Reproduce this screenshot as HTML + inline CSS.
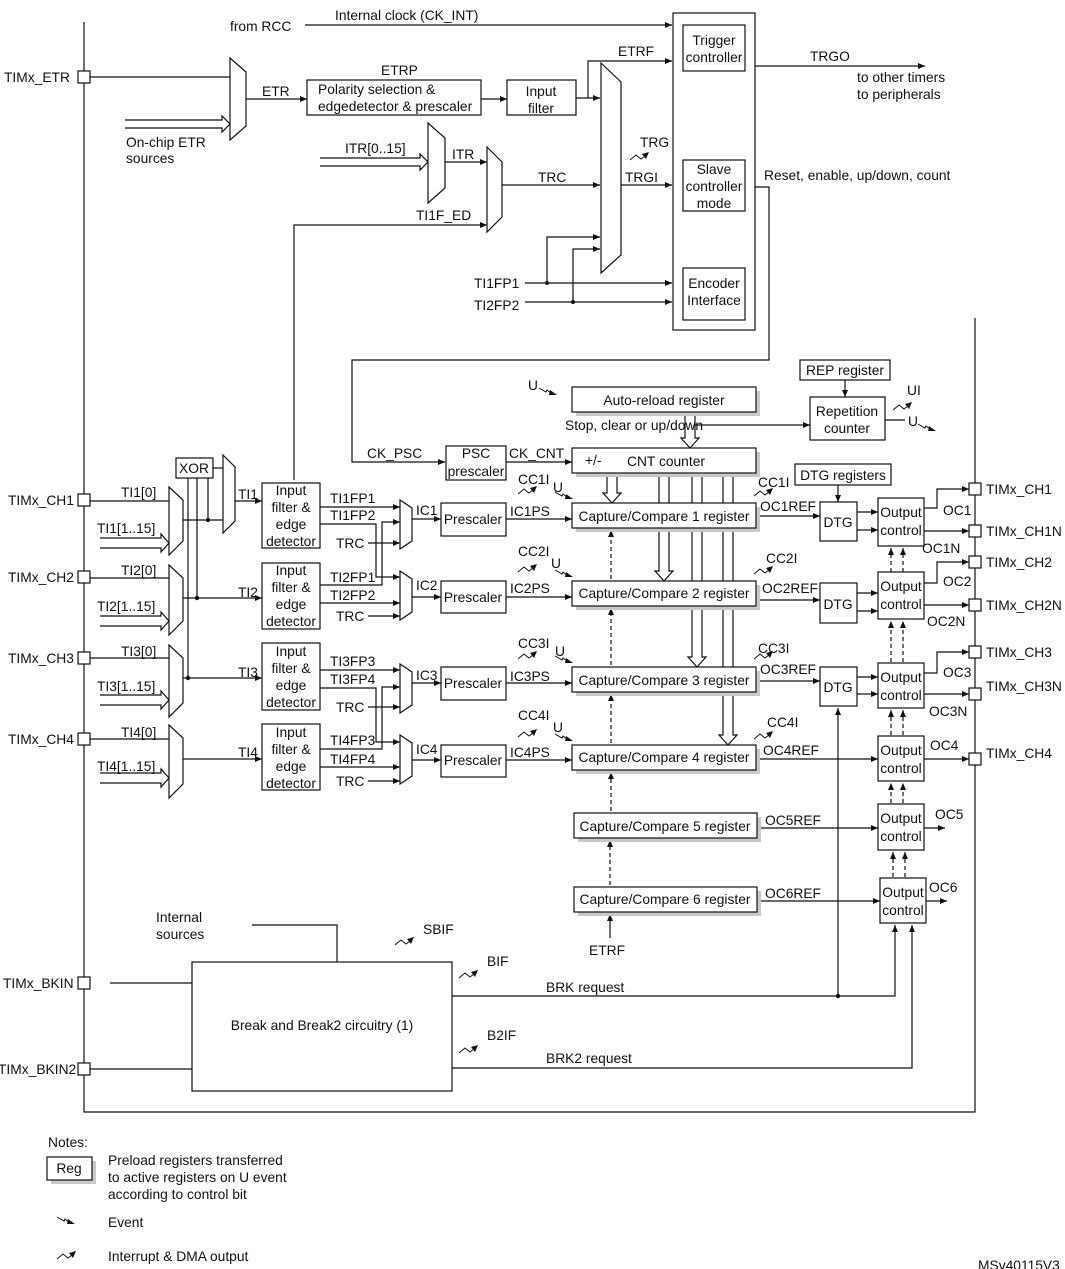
<!DOCTYPE html>
<html><head><meta charset="utf-8"><style>
html,body{margin:0;padding:0;background:#fff;}
svg{display:block;}
text{font-family:"Liberation Sans",Arial,sans-serif;font-size:13.8px;fill:#111;}
.c{text-anchor:middle;}
</style></head><body>
<svg width="1065" height="1269" viewBox="0 0 1065 1269" xmlns="http://www.w3.org/2000/svg">
<defs>
<marker id="a" markerWidth="8" markerHeight="8" refX="7" refY="4" orient="auto" markerUnits="userSpaceOnUse"><path d="M0 1 L7 4 L0 7Z" fill="#111"/></marker>
<g id="ev"><path d="M0 0 L7 4 L8 2 L12 5" fill="none" stroke="#111" stroke-width="1"/><path d="M11 2 L18 7 L10 7Z" fill="#111"/></g>
<g id="it"><path d="M0 8 L6 3 L11 7 L15 4" fill="none" stroke="#111" stroke-width="1"/><path d="M12 2 L19 0 L16 7Z" fill="#111"/></g>
</defs>
<g stroke="#111" stroke-width="1.2" fill="none">
<path d="M84 22 V1112 H975 V318"/>
<path d="M305 25 H672" marker-end="url(#a)"/>
<path d="M90 77 H230"/>
<path d="M125 120 H222 V116 L230 124 L222 132 V128 H125" fill="#fff"/>
<path d="M246 99 H307" marker-end="url(#a)"/>
<path d="M481 99 H507" marker-end="url(#a)"/>
<path d="M576 98 H600" marker-end="url(#a)"/>
<path d="M588 98 V61 H672" marker-end="url(#a)"/>
<path d="M320 158 H420 V154 L428 162 L420 170 V166 H320" fill="#fff"/>
<path d="M445 162 H487" marker-end="url(#a)"/>
<path d="M502 185 H600" marker-end="url(#a)"/>
<path d="M294 480 V225 H487" marker-end="url(#a)"/>
<path d="M621 185 H672" marker-end="url(#a)"/>
<path d="M525 283 H672" marker-end="url(#a)"/>
<path d="M525 302 H672" marker-end="url(#a)"/>
<path d="M547 283 V237 H600" marker-end="url(#a)"/>
<path d="M573 302 V249 H600" marker-end="url(#a)"/>
<path d="M755 66 H925" marker-end="url(#a)"/>
<path d="M755 187 H769 V360 H352 V462 H445" marker-end="url(#a)"/>
<path d="M506 462 H572" marker-end="url(#a)"/>
<path d="M685 412 V438 H681 L690 448 L699 438 H695 V412" fill="#fff"/>
<path d="M695 425 H810" marker-end="url(#a)"/>
<path d="M845 380 V397" marker-end="url(#a)"/>
<path d="M885 420 H905"/>
<path d="M838 485 V502" marker-end="url(#a)"/>
<path d="M607 473 V493 H603 L612 503 L621 493 H617 V473" fill="#fff"/>
<path d="M659 473 V571 H655 L664 581 L673 571 H669 V473" fill="#fff"/>
<path d="M692 473 V657 H688 L697 667 L706 657 H702 V473" fill="#fff"/>
<path d="M723 473 V735 H719 L728 745 L737 735 H733 V473" fill="#fff"/>
<path d="M611 579 V530" stroke-dasharray="4,3" marker-end="url(#a)"/>
<path d="M611 665 V608" stroke-dasharray="4,3" marker-end="url(#a)"/>
<path d="M611 743 V694" stroke-dasharray="4,3" marker-end="url(#a)"/>
<path d="M611 811 V772" stroke-dasharray="4,3" marker-end="url(#a)"/>
<path d="M610 885 V840" stroke-dasharray="4,3" marker-end="url(#a)"/>
<path d="M610 938 V914" marker-end="url(#a)"/>
<path d="M90 501 H169"/><path d="M100 538 H161 V534 L169 543 L161 552 V548 H100" fill="#fff"/>
<path d="M90 578 H169"/><path d="M100 616 H161 V612 L169 621 L161 630 V626 H100" fill="#fff"/>
<path d="M90 658 H169"/><path d="M100 695 H161 V691 L169 700 L161 709 V705 H100" fill="#fff"/>
<path d="M90 739 H169"/><path d="M100 773 H161 V769 L169 778 L161 787 V783 H100" fill="#fff"/>
<path d="M213 468 H223"/>
<path d="M208 478 V520"/><path d="M197 478 V598"/><path d="M188 478 V678"/>
<path d="M183 520 H223"/>
<path d="M235 501 H262" marker-end="url(#a)"/>
<path d="M183 598 H262" marker-end="url(#a)"/>
<path d="M183 678 H262" marker-end="url(#a)"/>
<path d="M183 759 H262" marker-end="url(#a)"/>
<path d="M320 507 H400" marker-end="url(#a)"/>
<path d="M320 524 H376 V577 H400" marker-end="url(#a)"/>
<path d="M320 585 H382 V522 H400" marker-end="url(#a)"/>
<path d="M368 543 H400" marker-end="url(#a)"/>
<path d="M320 603 H400" marker-end="url(#a)"/>
<path d="M368 616 H400" marker-end="url(#a)"/>
<path d="M320 670 H400" marker-end="url(#a)"/>
<path d="M320 688 H376 V742 H400" marker-end="url(#a)"/>
<path d="M320 749 H382 V687 H400" marker-end="url(#a)"/>
<path d="M368 707 H400" marker-end="url(#a)"/>
<path d="M320 767 H400" marker-end="url(#a)"/>
<path d="M368 781 H400" marker-end="url(#a)"/>
<path d="M412 519 H441" marker-end="url(#a)"/>
<path d="M412 597 H441" marker-end="url(#a)"/>
<path d="M412 683 H441" marker-end="url(#a)"/>
<path d="M412 760 H441" marker-end="url(#a)"/>
<path d="M506 519 H572" marker-end="url(#a)"/>
<path d="M506 597 H572" marker-end="url(#a)"/>
<path d="M506 683 H572" marker-end="url(#a)"/>
<path d="M506 760 H572" marker-end="url(#a)"/>
<path d="M756 516 H820" marker-end="url(#a)"/>
<path d="M756 600 H820" marker-end="url(#a)"/>
<path d="M756 681 H820" marker-end="url(#a)"/>
<path d="M756 759 H878" marker-end="url(#a)"/>
<path d="M757 828 H878" marker-end="url(#a)"/>
<path d="M757 901 H880" marker-end="url(#a)"/>
<path d="M857 512 H878" marker-end="url(#a)"/><path d="M857 530 H878" marker-end="url(#a)"/>
<path d="M857 593 H878" marker-end="url(#a)"/><path d="M857 611 H878" marker-end="url(#a)"/>
<path d="M857 677 H878" marker-end="url(#a)"/><path d="M857 694 H878" marker-end="url(#a)"/>
<path d="M924 508 H937 V489 H969" marker-end="url(#a)"/>
<path d="M924 531 H969" marker-end="url(#a)"/>
<path d="M924 583 H937 V562 H969" marker-end="url(#a)"/>
<path d="M924 605 H969" marker-end="url(#a)"/>
<path d="M924 673 H937 V652 H969" marker-end="url(#a)"/>
<path d="M924 694 H969" marker-end="url(#a)"/>
<path d="M924 759 H969" marker-end="url(#a)"/>
<path d="M924 828 H945" marker-end="url(#a)"/>
<path d="M926 901 H947" marker-end="url(#a)"/>
<g stroke-dasharray="4,3">
<path d="M891 572 V548" marker-end="url(#a)"/><path d="M903 572 V548" marker-end="url(#a)"/>
<path d="M891 662 V621" marker-end="url(#a)"/><path d="M903 662 V621" marker-end="url(#a)"/>
<path d="M891 735 V710" marker-end="url(#a)"/><path d="M903 735 V710" marker-end="url(#a)"/>
<path d="M891 803 V783" marker-end="url(#a)"/><path d="M903 803 V783" marker-end="url(#a)"/>
<path d="M893 877 V852" marker-end="url(#a)"/><path d="M905 877 V852" marker-end="url(#a)"/>
</g>
<path d="M252 925 H337 V962"/>
<path d="M110 983 H192"/>
<path d="M90 1069 H192"/>
<path d="M452 996 H895 V925" marker-end="url(#a)"/>
<path d="M838 996 V708" marker-end="url(#a)"/>
<path d="M452 1068 H912 V925" marker-end="url(#a)"/>
</g>
<g fill="#111">
<circle cx="547" cy="283" r="2"/><circle cx="573" cy="302" r="2"/>
<circle cx="208" cy="520" r="2.2"/><circle cx="197" cy="598" r="2.2"/><circle cx="188" cy="678" r="2.2"/>
<circle cx="838" cy="996" r="2.2"/>
</g>
<g stroke="#111" stroke-width="1.2" fill="#fff">
<path d="M230 58 L246 72 L246 126 L230 140Z"/>
<path d="M428 123 L445 138 L445 188 L428 203Z"/>
<path d="M487 147 L502 162 L502 217 L487 232Z"/>
<path d="M601 63 L621 82 L621 255 L601 273Z"/>
<path d="M169 487 L183 500 L183 541 L169 555Z"/>
<path d="M169 565 L183 578 L183 621 L169 635Z"/>
<path d="M169 645 L183 658 L183 703 L169 717Z"/>
<path d="M169 725 L183 738 L183 784 L169 798Z"/>
<path d="M223 455 L235 467 L235 521 L223 533Z"/>
<path d="M400 500 L412 508 L412 541 L400 549Z"/>
<path d="M400 571 L412 579 L412 612 L400 620Z"/>
<path d="M400 664 L412 672 L412 705 L400 713Z"/>
<path d="M400 735 L412 743 L412 776 L400 784Z"/>
</g>
<g fill="#c8c8c8">
<rect x="576" y="391" width="184" height="25"/>
<rect x="576" y="452" width="184" height="25"/>
<rect x="576" y="507" width="184" height="25"/>
<rect x="576" y="585" width="184" height="25"/>
<rect x="576" y="671" width="184" height="25"/>
<rect x="576" y="749" width="184" height="25"/>
<rect x="578" y="817" width="183" height="25"/>
<rect x="578" y="891" width="183" height="25"/>
<rect x="51" y="1161" width="45" height="23"/>
</g>
<g stroke="#111" stroke-width="1.2" fill="#fff">
<rect x="673" y="13" width="82" height="317"/>
<rect x="683" y="25" width="62" height="46"/>
<rect x="683" y="160" width="62" height="51"/>
<rect x="683" y="268" width="62" height="52"/>
<rect x="307" y="80" width="174" height="35"/>
<rect x="507" y="80" width="69" height="35"/>
<rect x="572" y="387" width="184" height="25"/>
<rect x="572" y="448" width="184" height="25"/>
<rect x="446" y="446" width="60" height="34"/>
<rect x="800" y="360" width="90" height="20"/>
<rect x="810" y="397" width="75" height="43"/>
<rect x="795" y="464" width="96" height="21"/>
<rect x="176" y="458" width="37" height="20"/>
<rect x="262" y="483" width="58" height="65"/>
<rect x="262" y="563" width="58" height="66"/>
<rect x="262" y="643" width="58" height="67"/>
<rect x="262" y="724" width="58" height="66"/>
<rect x="441" y="503" width="65" height="33"/>
<rect x="441" y="581" width="65" height="32"/>
<rect x="441" y="667" width="65" height="33"/>
<rect x="441" y="745" width="65" height="32"/>
<rect x="572" y="503" width="184" height="25"/>
<rect x="572" y="581" width="184" height="25"/>
<rect x="572" y="667" width="184" height="25"/>
<rect x="572" y="745" width="184" height="25"/>
<rect x="574" y="813" width="183" height="25"/>
<rect x="574" y="887" width="183" height="25"/>
<rect x="820" y="502" width="37" height="39"/>
<rect x="820" y="583" width="37" height="40"/>
<rect x="820" y="667" width="37" height="39"/>
<rect x="878" y="498" width="46" height="48"/>
<rect x="878" y="572" width="46" height="47"/>
<rect x="878" y="663" width="46" height="45"/>
<rect x="878" y="736" width="46" height="45"/>
<rect x="878" y="804" width="46" height="46"/>
<rect x="880" y="878" width="46" height="45"/>
<rect x="192" y="962" width="260" height="129"/>
<rect x="47" y="1157" width="45" height="23"/>
<rect x="78" y="71" width="12" height="12"/>
<rect x="78" y="494" width="12" height="12"/>
<rect x="78" y="571" width="12" height="12"/>
<rect x="78" y="652" width="12" height="12"/>
<rect x="78" y="733" width="12" height="12"/>
<rect x="78" y="977" width="12" height="12"/>
<rect x="78" y="1063" width="12" height="12"/>
<rect x="969" y="483" width="12" height="12"/>
<rect x="969" y="525" width="12" height="12"/>
<rect x="969" y="556" width="12" height="12"/>
<rect x="969" y="599" width="12" height="12"/>
<rect x="969" y="646" width="12" height="12"/>
<rect x="969" y="688" width="12" height="12"/>
<rect x="969" y="753" width="12" height="12"/>
</g>
<use href="#it" x="630" y="152"/>
<use href="#ev" x="539" y="388"/>
<use href="#it" x="893" y="402"/>
<use href="#ev" x="918" y="424"/>
<use href="#it" x="518" y="486"/><use href="#ev" x="555" y="492"/>
<use href="#it" x="518" y="564"/><use href="#ev" x="555" y="570"/>
<use href="#it" x="518" y="651"/><use href="#ev" x="555" y="656"/>
<use href="#it" x="518" y="729"/><use href="#ev" x="555" y="734"/>
<use href="#it" x="754" y="488"/>
<use href="#it" x="754" y="566"/>
<use href="#it" x="754" y="651"/>
<use href="#it" x="754" y="731"/>
<use href="#it" x="395" y="937"/>
<use href="#it" x="459" y="970"/>
<use href="#it" x="459" y="1045"/>
<use href="#ev" x="57" y="1217"/>
<use href="#it" x="57" y="1251"/>
<g>
<text x="230" y="31">from RCC</text>
<text x="335" y="20">Internal clock (CK_INT)</text>
<text x="4" y="82">TIMx_ETR</text>
<text x="262" y="96">ETR</text>
<text x="381" y="75">ETRP</text>
<text x="126" y="147">On-chip ETR</text>
<text x="126" y="163">sources</text>
<text x="318" y="94">Polarity selection &amp;</text>
<text x="318" y="111">edgedetector &amp; prescaler</text>
<text x="541" y="96" class="c">Input</text>
<text x="541" y="113" class="c">filter</text>
<text x="618" y="56">ETRF</text>
<text x="714" y="45" class="c">Trigger</text>
<text x="714" y="62" class="c">controller</text>
<text x="810" y="61">TRGO</text>
<text x="857" y="82">to other timers</text>
<text x="857" y="99">to peripherals</text>
<text x="345" y="153">ITR[0..15]</text>
<text x="452" y="159">ITR</text>
<text x="538" y="182">TRC</text>
<text x="416" y="220">TI1F_ED</text>
<text x="640" y="147">TRG</text>
<text x="625" y="182">TRGI</text>
<text x="714" y="174" class="c">Slave</text>
<text x="714" y="191" class="c">controller</text>
<text x="714" y="208" class="c">mode</text>
<text x="764" y="180">Reset, enable, up/down, count</text>
<text x="714" y="288" class="c">Encoder</text>
<text x="714" y="305" class="c">Interface</text>
<text x="474" y="288">TI1FP1</text>
<text x="474" y="310">TI2FP2</text>
<text x="845" y="375" class="c">REP register</text>
<text x="528" y="390">U</text>
<text x="664" y="405" class="c">Auto-reload register</text>
<text x="565" y="430">Stop, clear or up/down</text>
<text x="847" y="416" class="c">Repetition</text>
<text x="847" y="433" class="c">counter</text>
<text x="907" y="395">UI</text>
<text x="908" y="426">U</text>
<text x="367" y="458">CK_PSC</text>
<text x="476" y="458" class="c">PSC</text>
<text x="476" y="476" class="c">prescaler</text>
<text x="509" y="458">CK_CNT</text>
<text x="585" y="465">+/-</text>
<text x="627" y="466">CNT counter</text>
<text x="843" y="480" class="c">DTG registers</text>
<text x="664" y="521" class="c">Capture/Compare 1 register</text>
<text x="664" y="598" class="c">Capture/Compare 2 register</text>
<text x="664" y="685" class="c">Capture/Compare 3 register</text>
<text x="664" y="762" class="c">Capture/Compare 4 register</text>
<text x="665" y="831" class="c">Capture/Compare 5 register</text>
<text x="665" y="904" class="c">Capture/Compare 6 register</text>
<text x="518" y="484">CC1I</text><text x="553" y="492">U</text>
<text x="518" y="556">CC2I</text><text x="551" y="568">U</text>
<text x="518" y="648">CC3I</text><text x="555" y="656">U</text>
<text x="518" y="720">CC4I</text><text x="553" y="732">U</text>
<text x="510" y="516">IC1PS</text>
<text x="510" y="593">IC2PS</text>
<text x="510" y="681">IC3PS</text>
<text x="510" y="757">IC4PS</text>
<text x="416" y="515">IC1</text>
<text x="416" y="590">IC2</text>
<text x="416" y="680">IC3</text>
<text x="416" y="754">IC4</text>
<text x="473" y="524" class="c">Prescaler</text>
<text x="473" y="602" class="c">Prescaler</text>
<text x="473" y="688" class="c">Prescaler</text>
<text x="473" y="765" class="c">Prescaler</text>
<text x="758" y="487">CC1I</text>
<text x="760" y="511">OC1REF</text>
<text x="766" y="563">CC2I</text>
<text x="762" y="593">OC2REF</text>
<text x="758" y="653">CC3I</text>
<text x="760" y="674">OC3REF</text>
<text x="767" y="727">CC4I</text>
<text x="763" y="755">OC4REF</text>
<text x="765" y="825">OC5REF</text>
<text x="765" y="898">OC6REF</text>
<text x="838" y="527" class="c">DTG</text>
<text x="838" y="609" class="c">DTG</text>
<text x="838" y="692" class="c">DTG</text>
<text x="901" y="517" class="c">Output</text><text x="901" y="535" class="c">control</text>
<text x="901" y="591" class="c">Output</text><text x="901" y="609" class="c">control</text>
<text x="901" y="682" class="c">Output</text><text x="901" y="700" class="c">control</text>
<text x="901" y="755" class="c">Output</text><text x="901" y="773" class="c">control</text>
<text x="901" y="823" class="c">Output</text><text x="901" y="841" class="c">control</text>
<text x="903" y="897" class="c">Output</text><text x="903" y="915" class="c">control</text>
<text x="943" y="515">OC1</text>
<text x="922" y="553">OC1N</text>
<text x="943" y="586">OC2</text>
<text x="927" y="626">OC2N</text>
<text x="943" y="677">OC3</text>
<text x="929" y="716">OC3N</text>
<text x="930" y="750">OC4</text>
<text x="935" y="819">OC5</text>
<text x="929" y="892">OC6</text>
<text x="986" y="494">TIMx_CH1</text>
<text x="986" y="536">TIMx_CH1N</text>
<text x="986" y="567">TIMx_CH2</text>
<text x="986" y="610">TIMx_CH2N</text>
<text x="986" y="657">TIMx_CH3</text>
<text x="986" y="691">TIMx_CH3N</text>
<text x="986" y="758">TIMx_CH4</text>
<text x="589" y="955">ETRF</text>
<text x="330" y="503">TI1FP1</text>
<text x="330" y="520">TI1FP2</text>
<text x="336" y="548">TRC</text>
<text x="330" y="582">TI2FP1</text>
<text x="330" y="600">TI2FP2</text>
<text x="336" y="621">TRC</text>
<text x="330" y="666">TI3FP3</text>
<text x="330" y="684">TI3FP4</text>
<text x="336" y="712">TRC</text>
<text x="330" y="745">TI4FP3</text>
<text x="330" y="764">TI4FP4</text>
<text x="336" y="786">TRC</text>
<text x="121" y="497">TI1[0]</text>
<text x="97" y="533">TI1[1..15]</text>
<text x="121" y="575">TI2[0]</text>
<text x="97" y="611">TI2[1..15]</text>
<text x="121" y="656">TI3[0]</text>
<text x="97" y="691">TI3[1..15]</text>
<text x="121" y="737">TI4[0]</text>
<text x="97" y="771">TI4[1..15]</text>
<text x="238" y="499">TI1</text>
<text x="238" y="597">TI2</text>
<text x="238" y="677">TI3</text>
<text x="238" y="757">TI4</text>
<text x="194" y="473" class="c">XOR</text>
<text x="291" y="495" class="c">Input</text><text x="291" y="512" class="c">filter &amp;</text><text x="291" y="529" class="c">edge</text><text x="291" y="546" class="c">detector</text>
<text x="291" y="575" class="c">Input</text><text x="291" y="592" class="c">filter &amp;</text><text x="291" y="609" class="c">edge</text><text x="291" y="626" class="c">detector</text>
<text x="291" y="656" class="c">Input</text><text x="291" y="673" class="c">filter &amp;</text><text x="291" y="690" class="c">edge</text><text x="291" y="707" class="c">detector</text>
<text x="291" y="737" class="c">Input</text><text x="291" y="754" class="c">filter &amp;</text><text x="291" y="771" class="c">edge</text><text x="291" y="788" class="c">detector</text>
<text x="8" y="505">TIMx_CH1</text>
<text x="8" y="582">TIMx_CH2</text>
<text x="8" y="663">TIMx_CH3</text>
<text x="8" y="744">TIMx_CH4</text>
<text x="3" y="988">TIMx_BKIN</text>
<text x="-2" y="1074">TIMx_BKIN2</text>
<text x="156" y="922">Internal</text>
<text x="156" y="939">sources</text>
<text x="322" y="1030" class="c">Break and Break2 circuitry (1)</text>
<text x="423" y="934">SBIF</text>
<text x="487" y="966">BIF</text>
<text x="487" y="1040">B2IF</text>
<text x="546" y="992">BRK request</text>
<text x="546" y="1063">BRK2 request</text>
<text x="48" y="1147">Notes:</text>
<text x="69" y="1173" class="c">Reg</text>
<text x="108" y="1165">Preload registers transferred</text>
<text x="108" y="1182">to active registers on U event</text>
<text x="108" y="1199">according to control bit</text>
<text x="108" y="1227">Event</text>
<text x="108" y="1261">Interrupt &amp; DMA output</text>
<text x="978" y="1270">MSv40115V3</text>
</g>
</svg>
</body></html>
